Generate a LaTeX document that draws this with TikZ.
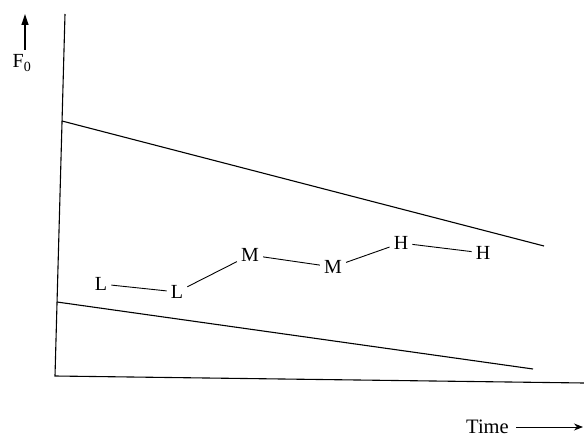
\documentclass[tikz,border=0pt]{standalone}
\usepackage{fontspec}
\setmainfont{Liberation Serif}
\usetikzlibrary{arrows.meta}
\begin{document}
\begin{tikzpicture}[x=1pt,y=-1pt,
  lbl/.style={font=\fontsize{20}{20}\selectfont, inner sep=4pt},
  ln/.style={line width=1.1pt},
  conn/.style={line width=0.9pt}]
\useasboundingbox (0,0) rectangle (584,441);
% axes
\coordinate (ytop) at (65,14);
\coordinate (origin) at (55,376);
\coordinate (xend) at (584,383);
\draw[ln] (ytop) -- (origin) -- (xend);
% trend lines
\coordinate (u1) at (62,121);
\coordinate (u2) at (544,246);
\coordinate (d1) at (57,302);
\coordinate (d2) at (533,369);
\draw[ln] (u1) -- (u2);
\draw[ln] (d1) -- (d2);
% F0 arrow
\coordinate (fa) at (25,50);
\coordinate (fb) at (25,14);
\draw[line width=1.2pt,-{Triangle[length=11pt,width=7pt]}] (fa) -- (fb);
\node[font=\fontsize{20}{20}\selectfont, inner sep=0pt] (f0) at (22,63) {F$_\mathrm{0}$};
% labels
\node[lbl] (l1) at (101,284) {L};
\node[lbl] (l2) at (177,292) {L};
\node[lbl] (m1) at (250,255) {M};
\node[lbl] (m2) at (333,267) {M};
\node[lbl] (h1) at (401,243) {H};
\node[lbl] (h2) at (483,253) {H};
\draw[conn] (l1) -- (l2);
\draw[conn] (l2) -- (m1);
\draw[conn] (m1) -- (m2);
\draw[conn] (m2) -- (h1);
\draw[conn] (h1) -- (h2);
% time label
\node[font=\fontsize{20.5}{20.5}\selectfont, inner sep=0pt, anchor=west] (time) at (466,427) {Time};
\coordinate (ta) at (516,427);
\coordinate (tb) at (583,427);
\draw[line width=0.9pt,-{Stealth[length=9pt,width=7pt]}] (ta) -- (tb);
\end{tikzpicture}
\end{document}
